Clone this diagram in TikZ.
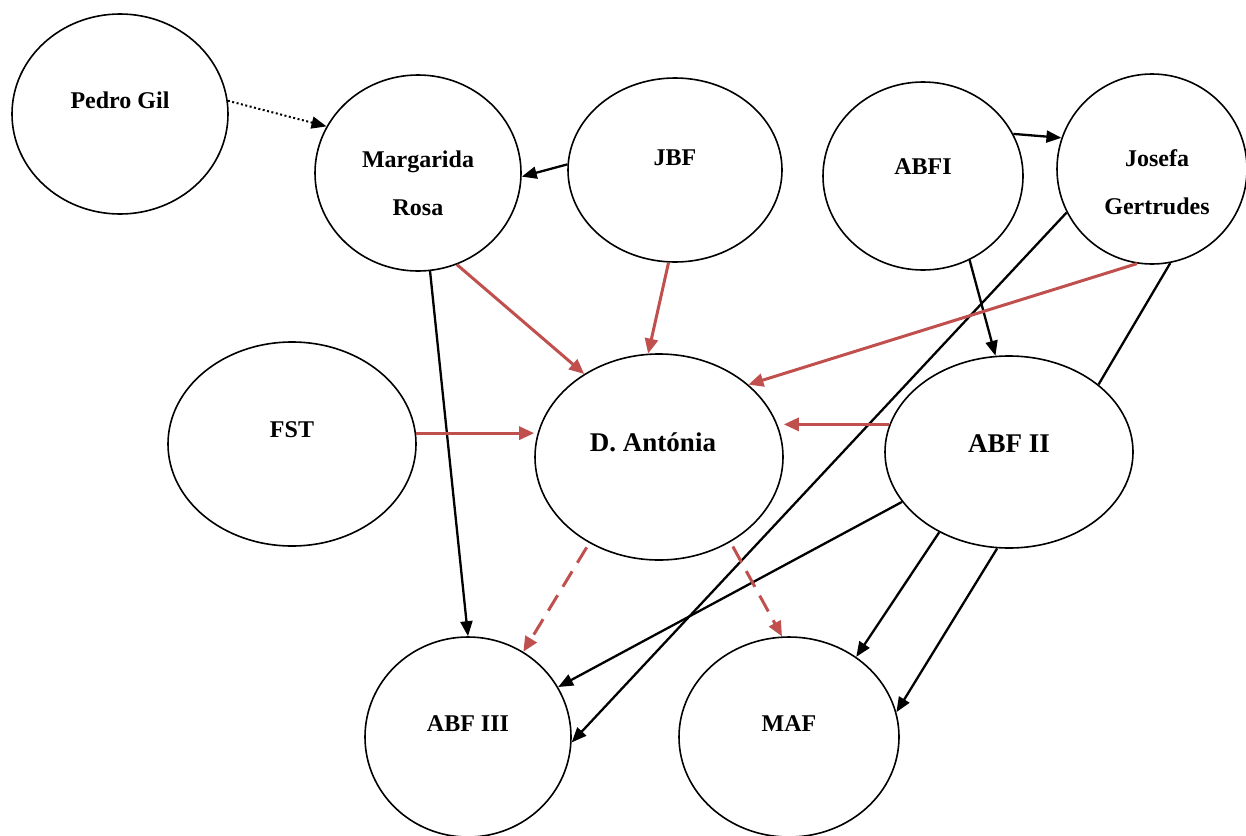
\documentclass[tikz,border=0pt]{standalone}
\usepackage{fontspec}
\setmainfont{Liberation Serif}
\usetikzlibrary{shapes.geometric,arrows.meta}
\definecolor{linkred}{RGB}{192,80,77}
\begin{document}
\begin{tikzpicture}[x=1pt,y=-1pt,
  person/.style={ellipse, draw, line width=1.6pt, inner sep=0pt},
  smalltext/.style={font=\fontsize{24}{48}\selectfont\bfseries, align=center},
  bigtext/.style={font=\fontsize{27}{30}\selectfont\bfseries, align=center},
  tiptri/.tip={Triangle[length=15pt,width=12pt]},
  tie/.style={line width=2.3pt, -tiptri},
  plainline/.style={line width=2.3pt},
  dotlink/.style={line width=2pt, dash pattern=on 2pt off 2.5pt, -tiptri},
  redlink/.style={line width=3pt, draw=linkred, -{Triangle[length=15pt,width=13pt]}},
  reddash/.style={line width=3pt, draw=linkred, dash pattern=on 18pt off 10pt,
    -{Triangle[length=15pt,width=13pt]}, shorten <=5pt}
]
\useasboundingbox (0,0) rectangle (1246,835);
\clip (0,0) rectangle (1246,835);

% people
\node[person, minimum width=216pt, minimum height=200pt,
  label={[smalltext, yshift=14pt]center:Pedro Gil}] (pg) at (120,114) {};
\node[person, minimum width=206pt, minimum height=196pt,
  label={[smalltext, yshift=-10pt]center:Margarida\\Rosa}] (mr) at (418,173) {};
\node[person, minimum width=214pt, minimum height=184pt,
  label={[smalltext, yshift=12pt]center:JBF}] (jbf) at (675,170) {};
\node[person, minimum width=200pt, minimum height=188pt,
  label={[smalltext, yshift=9pt]center:ABFI}] (abfi) at (923,176) {};
\node[person, minimum width=190pt, minimum height=190pt,
  label={[smalltext, yshift=-13pt, xshift=5pt]center:Josefa\\Gertrudes}] (jg) at (1152,169) {};
\node[person, minimum width=248pt, minimum height=204pt,
  label={[smalltext, yshift=14pt]center:FST}] (fst) at (292,444) {};
\node[person, minimum width=248pt, minimum height=206pt,
  label={[bigtext, yshift=15pt, xshift=-6pt]center:D. Antónia}] (da) at (659,457) {};
\node[person, minimum width=248pt, minimum height=192pt,
  label={[bigtext, yshift=8pt]center:ABF II}] (abf2) at (1009,452) {};
\node[person, minimum width=206pt, minimum height=200pt,
  label={[smalltext, yshift=13pt]center:ABF III}] (abf3) at (468,737) {};
\node[person, minimum width=220pt, minimum height=200pt,
  label={[smalltext, yshift=13pt]center:MAF}] (maf) at (789,737) {};

% black links
\draw[dotlink] (pg.7.4) -- (mr.153.2);
\draw[tie] (jbf.177.3) -- (mr.-2.7);
\draw[tie] (abfi.25.5) -- (jg.161.8);
\draw[tie] (mr.-83) -- (abf3.90);
\draw[tie] (abfi.-61.3) -- (abf2.98.3);
\draw[tie] (jg.207.9) -- (abf3.-3.3);
\draw[plainline] (jg.-79.3) -- (abf2.37.8);
\draw[tie] (abf2.205.1) -- (abf3.29.1);
\draw[tie] (abf2.229.6) -- (maf.50.8);
\draw[tie] (abf2.263.5) -- (maf.13.4);

% red links into D. Antonia
\draw[redlink] (mr.-67.2) -- (da.132.3);
\draw[redlink] (jbf.-94.3) -- (da.96);
\draw[redlink] (jg.261.6) -- (da.39.4);
\draw[redlink] (fst.5.5) -- (fst.5.5 -| da.west);
\draw[redlink] (abf2.167) -- (abf2.167 -| da.east);

% dashed red links out of D. Antonia
\draw[reddash] (da.231.5) -- (abf3.57.2);
\draw[reddash] (da.-50.6) -- (maf.94.6);
\end{tikzpicture}
\end{document}
